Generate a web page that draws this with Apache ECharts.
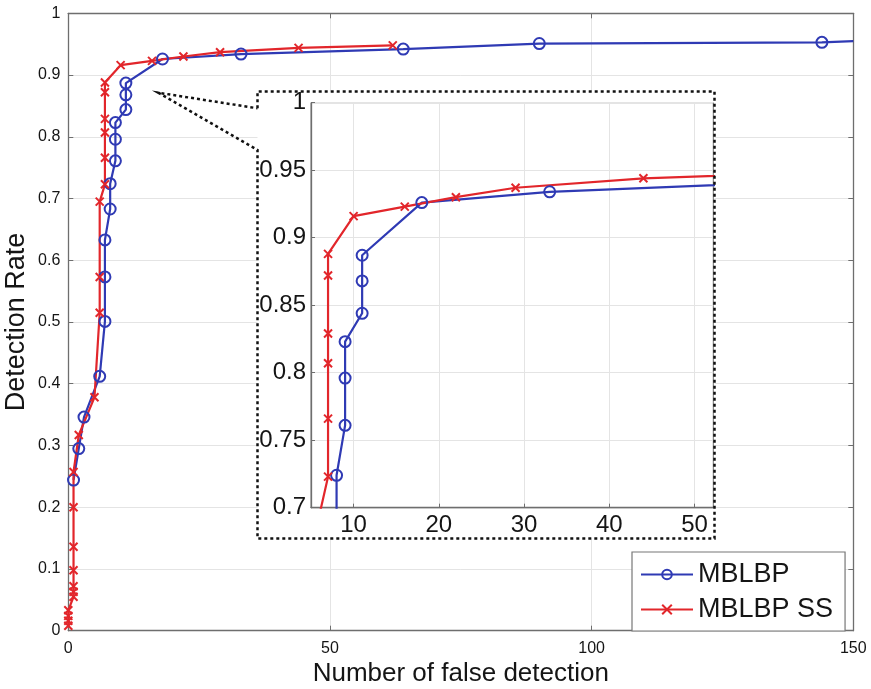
<!DOCTYPE html>
<html>
<head>
<meta charset="utf-8">
<title>Detection rate vs number of false detection</title>
<script src="https://cdn.jsdelivr.net/npm/echarts@6/dist/echarts.min.js"></script>
<style>
  html, body { margin: 0; padding: 0; background: #fff; }
  #chart { width: 871px; height: 689px; }
</style>
</head>
<body>
<div id="chart"></div>
<script>
// MBLBP (blue, circles) - last point is where the curve leaves the plot
const mblbpFalse = [1, 2, 3, 6, 7, 7, 7, 8, 8, 9, 9, 9, 11, 11, 11, 18, 33, 64, 90, 144, 150];
const mblbpRate = [0.244, 0.295, 0.346, 0.412, 0.501, 0.573, 0.633, 0.683, 0.724, 0.761, 0.796, 0.823,
  0.844, 0.868, 0.887, 0.926, 0.934, 0.942, 0.951, 0.953, 0.955];

// MBLBP SS (red, crosses)
const ssFalse = [0, 0, 0, 0, 1, 1, 1, 1, 1, 1, 1, 2, 5, 6, 6, 6, 7, 7, 7, 7, 7, 7, 10, 16, 22, 29, 44, 62];
const ssRate = [0.008, 0.016, 0.024, 0.033, 0.055, 0.063, 0.072, 0.098, 0.136, 0.2, 0.257, 0.317, 0.378,
  0.515, 0.573, 0.695, 0.723, 0.766, 0.807, 0.829, 0.872, 0.888, 0.916, 0.923, 0.93, 0.937, 0.944, 0.948];

const insetXTicks = [10, 20, 30, 40, 50];

const blue = "#2f3ab4";
const red = "#e2262b";
const axisGray = "#6e6e6e";
const gridGray = "#e4e4e4";
const textCol = "#151515";
const font = "Liberation Sans, Arial, sans-serif";
const crossPath = "path://M0,0L10,10M0,10L10,0";

// the last blue value only marks the edge of the plot, no marker there
const blueData = mblbpFalse.map((x, i) =>
  i === mblbpFalse.length - 1 ? { value: [x, mblbpRate[i]], symbol: "none" } : [x, mblbpRate[i]]
);
const redData = ssFalse.map((x, i) => [x, ssRate[i]]);

const chart = echarts.init(document.getElementById("chart"));

function lineSeries(name, data, isBlue, axisIdx, z) {
  const col = isBlue ? blue : red;
  return {
    name: name,
    type: "line",
    xAxisIndex: axisIdx,
    yAxisIndex: axisIdx,
    data: data,
    z: z,
    clip: true,
    symbol: isBlue ? "circle" : crossPath,
    symbolSize: isBlue ? 11 : 8,
    lineStyle: { color: col, width: 2.2 },
    itemStyle: {
      color: isBlue ? "rgba(255,255,255,0)" : col,
      borderColor: col,
      borderWidth: 2,
    },
  };
}

const mainLabel = { fontSize: 16, color: textCol, fontFamily: font };
const insetLabel = { fontSize: 24, color: textCol, fontFamily: font };

const option = {
  animation: false,
  backgroundColor: "#fff",
  grid: [
    { left: 68.3, top: 13.3, right: 17.7, bottom: 58.3, outerBoundsMode: "none", containLabel: false },
    {
      left: 311, top: 102.7, width: 402.3, height: 405, outerBoundsMode: "none", containLabel: false,
      show: true, backgroundColor: "#fff", borderColor: axisGray, borderWidth: 1, z: 2,
    },
  ],
  xAxis: [
    {
      type: "value", gridIndex: 0, min: 0, max: 150, interval: 50,
      axisLine: { show: true, onZero: false, lineStyle: { color: axisGray, width: 1.3 } },
      axisTick: { inside: true, length: 5, lineStyle: { color: axisGray } },
      axisLabel: { ...mainLabel, margin: 10 },
      splitLine: { show: true, lineStyle: { color: gridGray, width: 1 } },
      name: "Number of false detection",
      nameLocation: "middle",
      nameGap: 30,
      nameMoveOverlap: false,
      nameTextStyle: { fontSize: 26, color: textCol, fontFamily: font },
    },
    {
      type: "value", gridIndex: 0, position: "top", min: 0, max: 150, interval: 50,
      axisLine: { show: true, onZero: false, lineStyle: { color: axisGray, width: 1.3 } },
      axisTick: { inside: true, length: 5, lineStyle: { color: axisGray } },
      axisLabel: { show: false },
      splitLine: { show: false },
    },
    {
      type: "value", gridIndex: 1, min: 5, max: 52.2, z: 3,
      axisLine: { show: true, onZero: false, lineStyle: { color: axisGray, width: 1.3 } },
      axisTick: { inside: true, length: 4, customValues: insetXTicks, lineStyle: { color: axisGray } },
      axisLabel: { ...insetLabel, margin: 6, customValues: insetXTicks },
      splitLine: { show: true, lineStyle: { color: gridGray, width: 1 } },
    },
  ],
  yAxis: [
    {
      type: "value", gridIndex: 0, min: 0, max: 1, interval: 0.1,
      axisLine: { show: true, onZero: false, lineStyle: { color: axisGray, width: 1.3 } },
      axisTick: { inside: true, length: 5, lineStyle: { color: axisGray } },
      axisLabel: { ...mainLabel, margin: 8 },
      splitLine: { show: true, lineStyle: { color: gridGray, width: 1 } },
      name: "Detection Rate",
      nameLocation: "middle",
      nameGap: 38,
      nameMoveOverlap: false,
      nameTextStyle: { fontSize: 27, color: textCol, fontFamily: font },
    },
    {
      type: "value", gridIndex: 0, position: "right", min: 0, max: 1, interval: 0.1,
      axisLine: { show: true, onZero: false, lineStyle: { color: axisGray, width: 1.3 } },
      axisTick: { inside: true, length: 5, lineStyle: { color: axisGray } },
      axisLabel: { show: false },
      splitLine: { show: false },
    },
    {
      type: "value", gridIndex: 1, min: 0.7, max: 1, interval: 0.05, z: 3,
      axisLine: { show: true, onZero: false, lineStyle: { color: axisGray, width: 1.3 } },
      axisTick: { inside: true, length: 4, lineStyle: { color: axisGray } },
      axisLabel: { ...insetLabel, margin: 5 },
      splitLine: { show: true, lineStyle: { color: gridGray, width: 1 } },
    },
  ],
  legend: {
    data: ["MBLBP", "MBLBP SS"],
    orient: "vertical",
    left: 632,
    top: 552,
    padding: [9, 12, 8, 8],
    itemWidth: 52,
    itemHeight: 12,
    itemGap: 8,
    backgroundColor: "#fff",
    borderColor: "#777",
    borderWidth: 1.2,
    borderRadius: 0,
    textStyle: { fontSize: 27, color: textCol, fontFamily: font, lineHeight: 23 },
  },
  graphic: [
    {
      type: "rect", z: 1, silent: true,
      shape: { x: 257.5, y: 91.5, width: 457, height: 447 },
      style: { fill: "#fff" },
    },
    {
      type: "polyline", z: 5, silent: true,
      shape: {
        points: [[257.5, 108.3], [257.5, 91.5], [714.5, 91.5], [714.5, 538.5], [257.5, 538.5],
          [257.5, 150], [158.3, 92.7], [257.5, 108.3]],
      },
      style: { stroke: "#111", lineWidth: 2.5, lineDash: [3, 3], fill: null },
    },
  ],
  series: [
    lineSeries("MBLBP", blueData, true, 0, 2),
    lineSeries("MBLBP SS", redData, false, 0, 2),
    lineSeries("MBLBP", blueData, true, 2, 4),
    lineSeries("MBLBP SS", redData, false, 2, 4),
  ],
};

chart.setOption(option);
</script>
</body>
</html>
